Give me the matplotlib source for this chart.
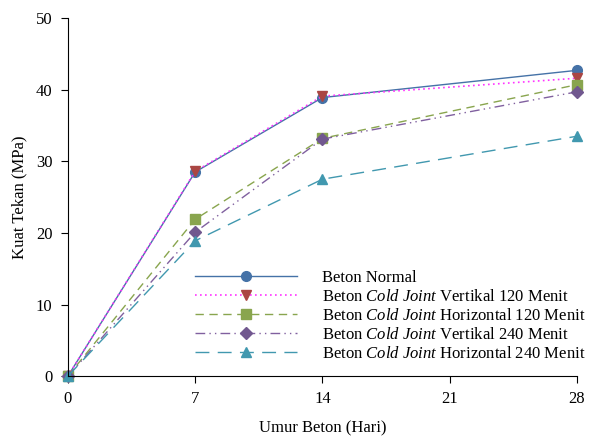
import matplotlib.pyplot as plt

umur = [0, 7, 14, 28]
normal = [0, 28.5, 38.9, 42.7]
vert_120 = [0, 28.6, 39.1, 41.6]
horz_120 = [0, 21.9, 33.2, 40.7]
vert_240 = [0, 20.1, 33.1, 39.7]
horz_240 = [0, 18.9, 27.5, 33.5]

plt.rcParams['font.family'] = ['Liberation Serif', 'DejaVu Serif']
plt.rcParams['mathtext.fontset'] = 'custom'
plt.rcParams['mathtext.it'] = 'Liberation Serif:italic'
plt.rcParams['mathtext.rm'] = 'Liberation Serif'

fig = plt.figure(figsize=(5.9, 4.4), dpi=100)
ax = fig.add_axes([0.115, 0.145, 0.863, 0.814])

ms = 7
ax.plot(umur, normal, color='#4572A7', lw=1, marker='o', ms=ms,
        label='Beton Normal')
ax.plot(umur, vert_120, color='#FF33FF', lw=1.2, ls=(0, (1, 2)), marker='v',
        ms=ms, mfc='#AA4643', mec='#AA4643',
        label='Beton $\\mathit{Cold\\ Joint}$ Vertikal 120 Menit')
ax.plot(umur, horz_120, color='#89A54E', lw=1, ls=(0, (6, 4)), marker='s',
        ms=ms, label='Beton $\\mathit{Cold\\ Joint}$ Horizontal 120 Menit')
ax.plot(umur, vert_240, color='#80609F', lw=1, ls=(0, (7, 3, 1, 3, 1, 3)),
        marker='D', ms=ms - 1, mfc='#71588F', mec='#71588F',
        label='Beton $\\mathit{Cold\\ Joint}$ Vertikal 240 Menit')
ax.plot(umur, horz_240, color='#4198AF', lw=1, ls=(0, (10, 6)), marker='^',
        ms=ms, label='Beton $\\mathit{Cold\\ Joint}$ Horizontal 240 Menit')

ax.set_xlim(0, 28)
ax.set_ylim(0, 50)
ax.set_xticks([0, 7, 14, 21, 28])
ax.set_yticks(range(0, 51, 10))
ax.spines['top'].set_visible(False)
ax.spines['right'].set_visible(False)
ax.tick_params(labelsize=12, length=5, pad=6)
ax.set_xlabel('Umur Beton (Hari)', fontsize=12, labelpad=9)
ax.set_ylabel('Kuat Tekan (MPa)', fontsize=12, labelpad=6)

ax.legend(loc='upper left', bbox_to_anchor=(0.25, 0.297), frameon=False,
          fontsize=12, handlelength=6.1, labelspacing=0.18, handletextpad=1.5,
          borderaxespad=0, borderpad=0)
for ln in ax.lines:
    ln.set_clip_on(False)

fig.savefig('out.png', dpi=100)
